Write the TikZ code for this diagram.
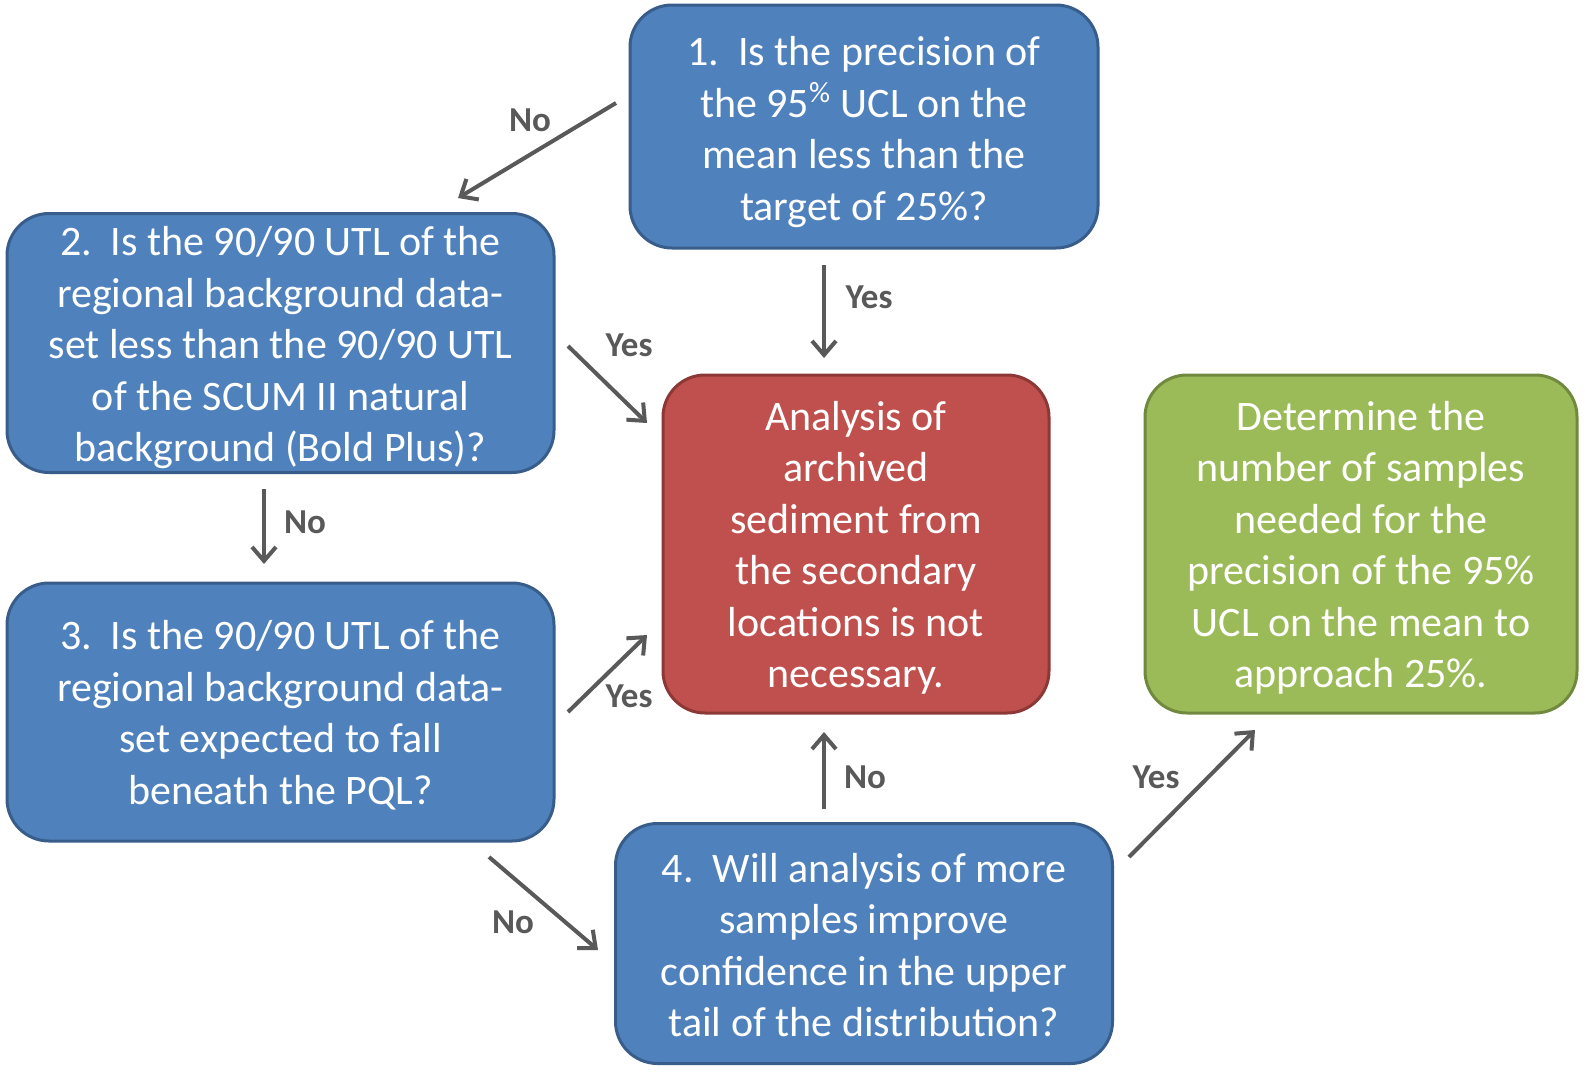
\documentclass[tikz,border=0pt]{standalone}
\usepackage{fontspec}
\setmainfont{Carlito}
\usetikzlibrary{arrows.meta}
\definecolor{bfill}{HTML}{4F81BD}
\definecolor{bline}{HTML}{385D8A}
\definecolor{rfill}{HTML}{C0504D}
\definecolor{rline}{HTML}{8C3836}
\definecolor{gfill}{HTML}{9BBB59}
\definecolor{gline}{HTML}{71893F}
\definecolor{arr}{HTML}{595959}
\tikzset{
  box/.style={rounded corners=21pt, line width=1.5pt, inner sep=0pt},
  bluebox/.style={box, fill=bfill, draw=bline},
  redbox/.style={box, fill=rfill, draw=rline},
  greenbox/.style={box, fill=gfill, draw=gline},
  txt/.style={text=white, align=center, inner sep=0pt, font=\fontsize{21}{25.75}\selectfont},
  conn/.style={draw=arr, line width=2pt, -{Straight Barb[length=7pt,width=12pt,line width=2pt]}},
  lab/.style={text=arr, font=\fontsize{17.5}{20}\selectfont\bfseries, inner sep=0pt}
}
\begin{document}
\begin{tikzpicture}[x=0.5pt,y=-0.5pt]
\useasboundingbox (0,0) rectangle (1585,1071);
\fill[white] (0,0) rectangle (1585,1071);

\node[bluebox, minimum width=234pt, minimum height=121.5pt] (b1) at (864,126.5) {};
\node[txt] (t1) at (864,132)
  {1.\ \ Is the precision of\\the 95\textsuperscript{\%} UCL on the\\mean less than the\\target of 25\%?};
\node[bluebox, minimum width=273.5pt, minimum height=129.5pt] (b2) at (280.5,343) {};
\node[txt] (t2) at (280.5,348)
  {2.\ \ Is the 90/90 UTL of the\\regional background data-\\set less than the 90/90 UTL\\of the SCUM II natural\\background (Bold Plus)?};
\node[bluebox, minimum width=273.5pt, minimum height=129pt] (b3) at (280.5,712) {};
\node[txt] (t3) at (280.5,715)
  {3.\ \ Is the 90/90 UTL of the\\regional background data-\\set expected to fall\\beneath the PQL?};
\node[redbox, minimum width=193pt, minimum height=169pt] (red) at (856,544) {};
\node[txt] (tr) at (856,548)
  {Analysis of\\archived\\sediment from\\the secondary\\locations is not\\necessary.};
\node[greenbox, minimum width=216pt, minimum height=169pt] (green) at (1361,544) {};
\node[txt] (tg) at (1361,548)
  {Determine the\\number of samples\\needed for the\\precision of the 95\%\\UCL on the mean to\\approach 25\%.};
\node[bluebox, minimum width=248.5pt, minimum height=120pt] (b4) at (864,943.5) {};
\node[txt] (t4) at (864,945)
  {4.\ \ Will analysis of more\\samples improve\\confidence in the upper\\tail of the distribution?};

% arrow end points
\coordinate (a1s) at (616,103);  \coordinate (a1e) at (458,198);
\coordinate (a2s) at (824,265);  \coordinate (a2e) at (824,358);
\coordinate (a3s) at (568,346);  \coordinate (a3e) at (647,423);
\coordinate (a4s) at (264,489);  \coordinate (a4e) at (264,564);
\coordinate (a5s) at (568,712);  \coordinate (a5e) at (647,635);
\coordinate (a6s) at (489,857);  \coordinate (a6e) at (598,950);
\coordinate (a7s) at (824,809);  \coordinate (a7e) at (824,732);
\coordinate (a8s) at (1129,857); \coordinate (a8e) at (1255,730);

\draw[conn] (a1s) -- (a1e);
\draw[conn] (a2s) -- (a2e);
\draw[conn] (a3s) -- (a3e);
\draw[conn] (a4s) -- (a4e);
\draw[conn] (a5s) -- (a5e);
\draw[conn] (a6s) -- (a6e);
\draw[conn] (a7s) -- (a7e);
\draw[conn] (a8s) -- (a8e);

\node[lab] (l1) at (530,120) {No};
\node[lab] (l2) at (869,297) {Yes};
\node[lab] (l3) at (629,345) {Yes};
\node[lab] (l4) at (305,522) {No};
\node[lab] (l5) at (629,696) {Yes};
\node[lab] (l6) at (513,922) {No};
\node[lab] (l7) at (865,777) {No};
\node[lab] (l8) at (1156,777) {Yes};
\end{tikzpicture}
\end{document}
